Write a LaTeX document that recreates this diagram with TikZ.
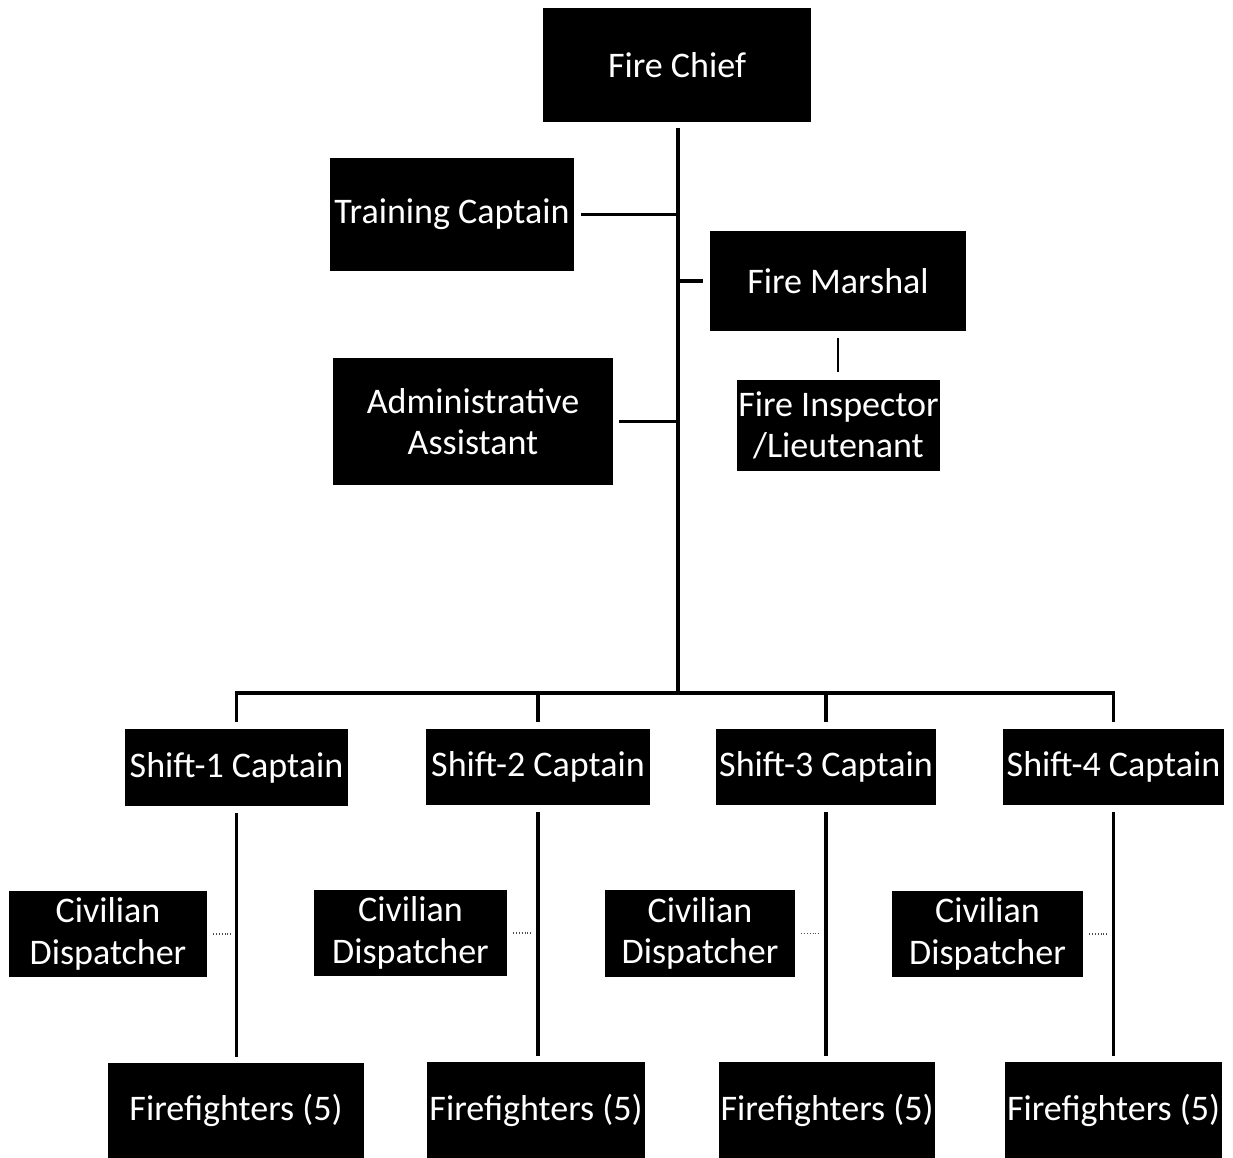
\documentclass[tikz,border=0pt]{standalone}
\usepackage{fontspec}
\setmainfont{Carlito}
\usepackage{tikz}
\usetikzlibrary{positioning}

\begin{document}
\begin{tikzpicture}[
    post/.style={fill=black, text=white, inner sep=0pt, align=center, font=\fontsize{20.5}{23.5}\selectfont},
    link/.style={line width=2.2pt},
    faint/.style={line width=0.6pt, densely dotted, black!70}
  ]
    \useasboundingbox (0,0) rectangle (24.66,-23.16);

    \node[post, minimum width=5.36cm, minimum height=2.28cm] (chief) at (13.54,-1.30) {Fire Chief};
    \node[post, minimum width=4.88cm, minimum height=2.26cm] (train) at (9.04,-4.29) {Training Captain};
    \node[post, minimum width=5.12cm, minimum height=2.00cm] (marshal) at (16.76,-5.62) {Fire Marshal};
    \node[post, minimum width=5.60cm, minimum height=2.54cm] (admin) at (9.46,-8.43) {Administrative\\Assistant};
    \node[post, minimum width=4.06cm, minimum height=1.82cm] (insp) at (16.77,-8.51) {Fire Inspector\\/Lieutenant};

    \node[post, minimum width=4.46cm, minimum height=1.54cm] (s1) at (4.73,-15.35) {Shift-1 Captain};
    \node[post, minimum width=4.48cm, minimum height=1.52cm] (s2) at (10.76,-15.34) {Shift-2 Captain};
    \node[post, minimum width=4.40cm, minimum height=1.52cm] (s3) at (16.52,-15.34) {Shift-3 Captain};
    \node[post, minimum width=4.42cm, minimum height=1.52cm] (s4) at (22.27,-15.34) {Shift-4 Captain};

    \node[post, minimum width=3.96cm, minimum height=1.72cm] (cd1) at (2.16,-18.68) {Civilian\\Dispatcher};
    \node[post, minimum width=3.86cm, minimum height=1.72cm] (cd2) at (8.21,-18.66) {Civilian\\Dispatcher};
    \node[post, minimum width=3.80cm, minimum height=1.74cm] (cd3) at (14.00,-18.67) {Civilian\\Dispatcher};
    \node[post, minimum width=3.82cm, minimum height=1.72cm] (cd4) at (19.75,-18.68) {Civilian\\Dispatcher};

    \node[post, minimum width=5.12cm, minimum height=1.90cm] (ff1) at (4.72,-22.21) {Firefighters (5)};
    \node[post, minimum width=4.36cm, minimum height=1.92cm] (ff2) at (10.72,-22.20) {Firefighters (5)};
    \node[post, minimum width=4.32cm, minimum height=1.92cm] (ff3) at (16.54,-22.20) {Firefighters (5)};
    \node[post, minimum width=4.34cm, minimum height=1.92cm] (ff4) at (22.27,-22.20) {Firefighters (5)};

    % trunk and bus
    \coordinate (bus) at ([xshift=0.02cm]chief.south |- 0,-13.86);
    \draw[link] ([xshift=0.02cm, yshift=-0.12cm]chief.south) -- (bus);
    \draw[link] ([yshift=0.14cm]s1.north) |- (bus) -| ([yshift=0.14cm]s4.north);
    \draw[link] ([yshift=0.14cm]s2.north) -- (s2.north |- bus);
    \draw[link] ([yshift=0.14cm]s3.north) -- (s3.north |- bus);

    % staff
    \draw[link] ([xshift=0.14cm]train.east) -- (train.east -| bus);
    \draw[link] (marshal.west -| bus) -- ([xshift=-0.14cm]marshal.west);
    \draw[link] ([xshift=0.12cm]admin.east) -- (admin.east -| bus);
    \draw[line width=1.3pt] ([yshift=-0.14cm]marshal.south) -- ([yshift=0.16cm]marshal.south |- insp.north);

    % shifts
    \foreach \i in {1,...,4}{
      \draw[link] ([yshift=-0.14cm]s\i.south) -- ([yshift=0.12cm]s\i.south |- ff\i.north);
      \draw[faint] ([xshift=0.12cm]cd\i.east) -- ([xshift=-0.12cm]cd\i.east -| s\i.south);
    }
  \end{tikzpicture}
\end{document}
